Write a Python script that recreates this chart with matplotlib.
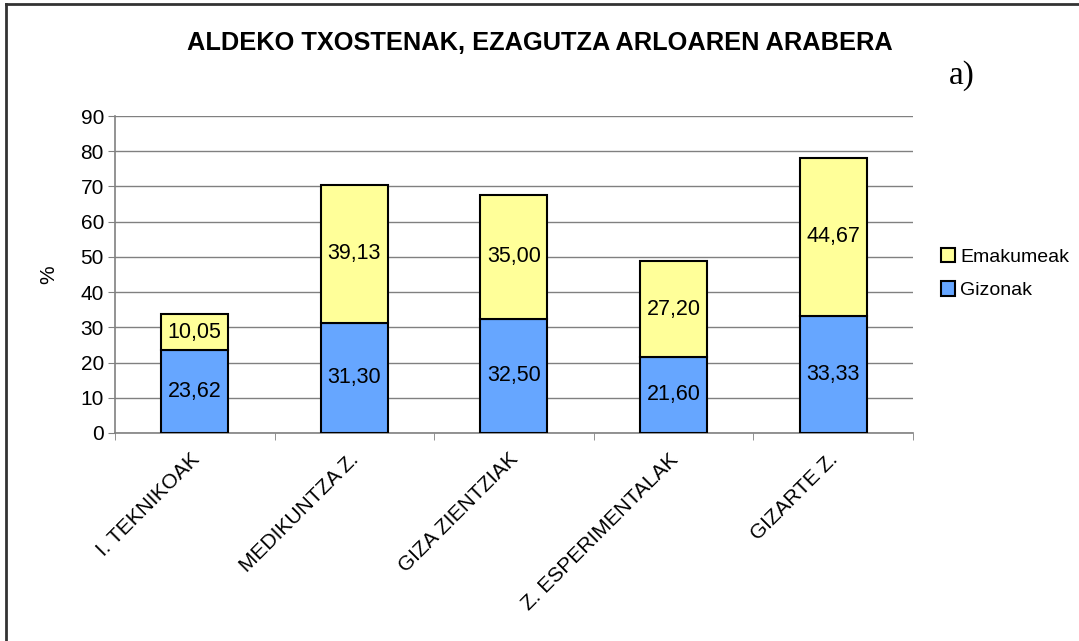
# Aldeko txostenak, ezagutza arloaren arabera (barra pilatuak)
import numpy as np
import matplotlib.pyplot as plt
from matplotlib.lines import Line2D
from matplotlib.transforms import offset_copy

plt.rcParams['font.family'] = ['Liberation Sans', 'DejaVu Sans']

# Datuak
kategoriak = ["I. TEKNIKOAK", "MEDIKUNTZA Z.", "GIZA ZIENTZIAK",
              "Z. ESPERIMENTALAK", "GIZARTE Z."]
gizonak = [23.62, 31.30, 32.50, 21.60, 33.33]
emakumeak = [10.05, 39.13, 35.00, 27.20, 44.67]

urdina = "#66A6FF"
horia = "#FFFF99"

fig = plt.figure(figsize=(10.79, 6.41), dpi=100)
ax = fig.add_axes([0.1066, 0.3245, 0.7394, 0.4945])

x = np.arange(len(kategoriak))
b1 = ax.bar(x, gizonak, width=0.42, color=urdina, edgecolor="black",
            linewidth=1.5, label="Gizonak", zorder=3)
b2 = ax.bar(x, emakumeak, width=0.42, bottom=gizonak, color=horia,
            edgecolor="black", linewidth=1.5, label="Emakumeak", zorder=3)

# Balioak barren barruan, koma hamartarrarekin
for barrak, balioak in [(b1, gizonak), (b2, emakumeak)]:
    for b, v in zip(barrak, balioak):
        ax.text(b.get_x() + b.get_width() / 2, b.get_y() + b.get_height() / 2,
                f"{v:.2f}".replace(".", ","), ha="center", va="center",
                fontsize=15.5, zorder=4)

ax.set_xlim(-0.5, len(kategoriak) - 0.5)
ax.set_ylim(0, 90)
ax.set_yticks(np.arange(0, 91, 10))
ax.tick_params(axis="y", labelsize=15, length=5, color="#808080", pad=3)
ax.set_xticks(x)
ax.set_xticklabels(kategoriak, rotation=45, ha="right",
                   rotation_mode="anchor", fontsize=15)
ax.tick_params(axis="x", length=0, pad=12)
for lbl in ax.get_xticklabels():
    lbl.set_transform(offset_copy(lbl.get_transform(), fig=fig, x=-5, y=0,
                                  units="dots"))
ax.set_xticks(np.arange(-0.5, len(kategoriak), 1), minor=True)
ax.tick_params(axis="x", which="minor", length=5, color="#808080")

ax.grid(axis="y", color="#808080", linewidth=1, zorder=0)
for s in ["top", "right"]:
    ax.spines[s].set_visible(False)
for s in ["left", "bottom"]:
    ax.spines[s].set_color("#808080")
    ax.spines[s].set_linewidth(1.2)

ax.set_ylabel("%", fontsize=15, labelpad=16)

fig.text(0.5, 0.933, "ALDEKO TXOSTENAK, EZAGUTZA ARLOAREN ARABERA",
         ha="center", va="center", fontsize=18.3, fontweight="bold")
fig.text(0.891, 0.882, "a)", ha="center", va="center", fontsize=24,
         family=["Liberation Serif", "DejaVu Serif"])

leg = fig.legend(handles=[b2, b1], loc="center left",
                 bbox_to_anchor=(0.872, 0.573), frameon=False, fontsize=14,
                 handlelength=0.75, handleheight=0.75, handletextpad=0.25,
                 labelspacing=0.8, borderpad=0, borderaxespad=0)

# Irudiaren ertza (ezkerra eta goia)
fig.add_artist(Line2D([0.0055, 0.0055], [0, 0.993], color="#333333", lw=2))
fig.add_artist(Line2D([0.0055, 1], [0.993, 0.993], color="#333333", lw=2))

plt.savefig("out.png", dpi=100)
